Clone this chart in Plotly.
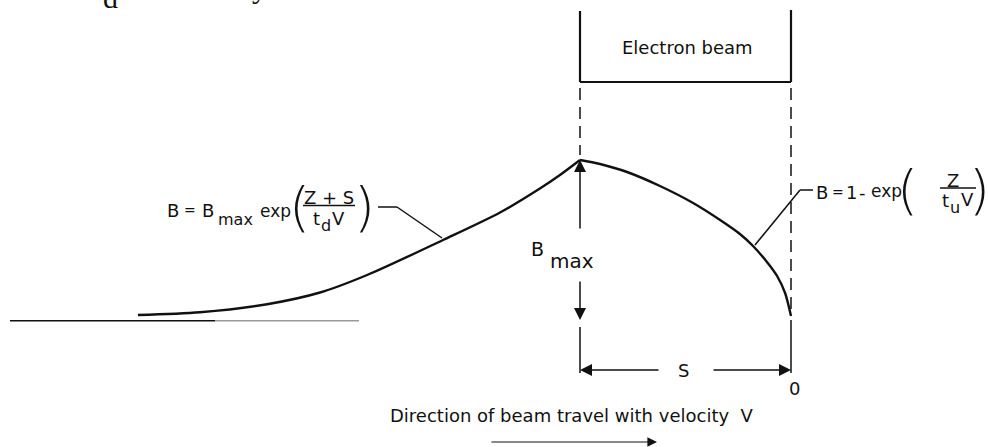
import plotly.graph_objects as go

W, H = 988, 447

# Normalised units: distance Z in units of the beam width S, intensity B
S = 1.0
B_MAX = 0.8

# Build-up inside the beam, Z from -S to 0:  B = 1 - exp(Z / t_u V)
z_beam = [-1.0, -0.905, -0.777, -0.621, -0.464, -0.336, -0.242, -0.180, -0.114, -0.066, -0.028, 0.0]
b_beam = [0.80, 0.78, 0.74, 0.67, 0.585, 0.50, 0.43, 0.37, 0.29, 0.22, 0.135, 0.02]

# Decay behind the beam, Z < -S:  B = Bmax exp((Z + S) / t_d V)
z_decay = [-3.095, -2.801, -2.483, -2.232, -2.009, -1.649, -1.379, -1.190, -1.095, -1.0]
b_decay = [0.025, 0.039, 0.079, 0.1375, 0.225, 0.40, 0.5375, 0.6575, 0.725, 0.80]

# Axis windows (Z, B); 211 px per unit S and 200 px per unit B
X_RANGE = [-791 / 211, 197 / 211]
Y_RANGE = [-127 / 200, 320 / 200]


def X(px):
    return (px - 791) / 211


def Y(py):
    return (320 - py) / 200


INK = "#111111"
FONT = "DejaVu Sans, Liberation Sans, sans-serif"

fig = go.Figure()
for zs, bs in ((z_decay, b_decay), (z_beam, b_beam)):
    fig.add_trace(go.Scatter(x=zs, y=bs, mode="lines",
                             line=dict(color=INK, width=2.4, shape="spline", smoothing=0.8),
                             hoverinfo="skip", showlegend=False))

shapes = []


def seg(p, q, width=1.5, dash="solid", color=INK):
    shapes.append(dict(type="line", xref="x", yref="y",
                       x0=X(p[0]), y0=Y(p[1]), x1=X(q[0]), y1=Y(q[1]),
                       line=dict(color=color, width=width, dash=dash)))


# Electron beam box
seg((580, 11), (580, 82), width=2.2)
seg((580, 82), (791, 82), width=2.2)
seg((791, 10), (791, 82), width=2.2)
# Beam edges (dashed) and dimension extension lines
seg((580, 88), (580, 155), dash="12px,7px")
seg((791, 88), (791, 316), dash="12px,7px")
seg((580, 327), (580, 373))
seg((791, 320), (791, 373))
# B = 0 base line
seg((10, 320.7), (215, 320.7), width=1.6)
seg((215, 320.7), (359, 320.7), width=1.4, color="#9a9a9a")
# Leaders from the equations to the curves
seg((378, 207), (397, 207))
seg((397, 207), (442, 238))
seg((755, 245), (800, 190))
seg((800, 190), (813, 190))
# Fraction bars
seg((303, 205.5), (355, 205.5))
seg((940, 188), (976, 188))

annotations = []


def txt(s, px, py, size=18, anchor="center", family=FONT, weight="normal"):
    # placed in paper units so labels near the edges are never hidden
    annotations.append(dict(text=s, x=px / W, y=1 - py / H, xref="paper", yref="paper",
                            xanchor=anchor, yanchor="middle", showarrow=False,
                            font=dict(family=family, size=size, color=INK, weight=weight)))


def arrow(tip, tail, width=1.5, size=1.6):
    annotations.append(dict(text="", x=X(tip[0]), y=Y(tip[1]),
                            ax=X(tail[0]), ay=Y(tail[1]),
                            xref="x", yref="y", axref="x", ayref="y",
                            showarrow=True, arrowhead=2, arrowsize=size,
                            arrowwidth=width, arrowcolor=INK, standoff=0))


txt("Electron beam", 687, 47)

# Decay law: B = Bmax exp((Z + S) / t_d V)
txt("B", 173, 210)
txt("=", 190, 210, size=14)
txt("B", 208, 210)
txt("max", 216, 219, size=16, anchor="left")
txt("exp", 275, 211, size=17)
txt("(", 299, 207, size=54, weight=200)
txt(")", 364, 207, size=54, weight=200)
txt("Z + S", 329, 197)
txt("t", 316, 218)
txt("d", 326, 225, size=16)
txt("V", 338, 218)

# Build-up law: B = 1 - exp(Z / t_u V)
txt("B", 822, 192)
txt("=", 838, 192, size=14)
txt("1", 851, 192)
txt("-", 862.5, 192)
txt("exp", 886, 191, size=17)
txt("(", 907, 190, size=54, weight=200)
txt(")", 979, 190, size=54, weight=200)
txt("Z", 953, 180)
txt("t", 945, 200)
txt("u", 955, 207, size=16)
txt("V", 967, 199)

# Dimensions
txt("B", 537, 249, size=19)
txt("max", 548, 261, size=20, anchor="left")
txt("S", 683, 370)
txt("0", 794, 388)
txt("Direction of beam travel with velocity  V", 572, 415)

# Fragments of the caption line above
txt("d", 110, -2, size=30, family="Liberation Serif, serif")
txt("y", 259, -13, size=30, family="Liberation Serif, serif")

arrow((580, 160), (580, 230))
arrow((580, 320), (580, 280))
arrow((580, 370), (660, 370))
arrow((791, 370), (712, 370))
arrow((657, 442), (490, 442), width=1.2)

fig.update_layout(
    width=W, height=H,
    margin=dict(l=0, r=0, t=0, b=0),
    paper_bgcolor="white", plot_bgcolor="white",
    xaxis=dict(range=X_RANGE, visible=False, fixedrange=True),
    yaxis=dict(range=Y_RANGE, visible=False, fixedrange=True),
    shapes=shapes, annotations=annotations,
    showlegend=False,
)

fig.write_html("out.html", config={"displayModeBar": False})
